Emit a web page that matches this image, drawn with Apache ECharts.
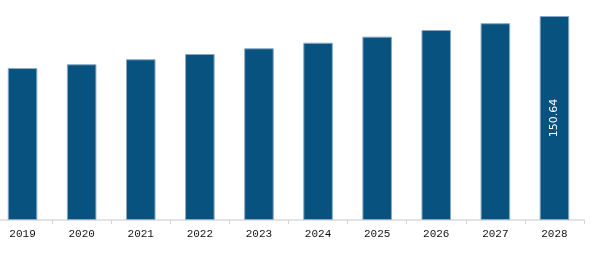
<!DOCTYPE html>
<html><head><meta charset="utf-8">
<script src="https://cdn.jsdelivr.net/npm/echarts@6/dist/echarts.min.js"></script>
<style>html,body{margin:0;padding:0;background:#fff;overflow:hidden}#c{width:598px;height:260px;margin-left:-7px}</style>
</head><body><div id="c"></div>
<script>
const categories = ['2019','2020','2021','2022','2023','2024','2025','2026','2027','2028'];
const values = [112.2, 115.0, 118.7, 122.6, 126.8, 130.9, 135.4, 140.3, 145.3, 150.64];
const labelledIndex = 9;

const chart = echarts.init(document.getElementById('c'), null, {renderer:'canvas'});
chart.setOption({
  animation:false,
  grid:{left:0, right:7, top:16, bottom:40, containLabel:false},
  xAxis:{type:'category', data:categories,
    axisLine:{lineStyle:{color:'#e3e3e3', width:2}},
    axisTick:{show:true, length:4, lineStyle:{color:'#d6d6d6'}},
    axisLabel:{color:'#111', fontFamily:'Liberation Mono', fontSize:11, margin:9}},
  yAxis:{type:'value', min:0, max:150.64, show:false, splitLine:{show:false}},
  series:[{type:'bar', barWidth:'50%',
    data: values.map((v,i)=>({value:v, label:{show:i===labelledIndex}})),
    itemStyle:{color:'#08527f', borderColor:'#8aaac4', borderWidth:1},
    label:{position:'inside', rotate:90, color:'#fff', fontFamily:'DejaVu Sans', fontSize:11,
      formatter:p=>p.value.toFixed(2)}
  }]
});
</script></body></html>
